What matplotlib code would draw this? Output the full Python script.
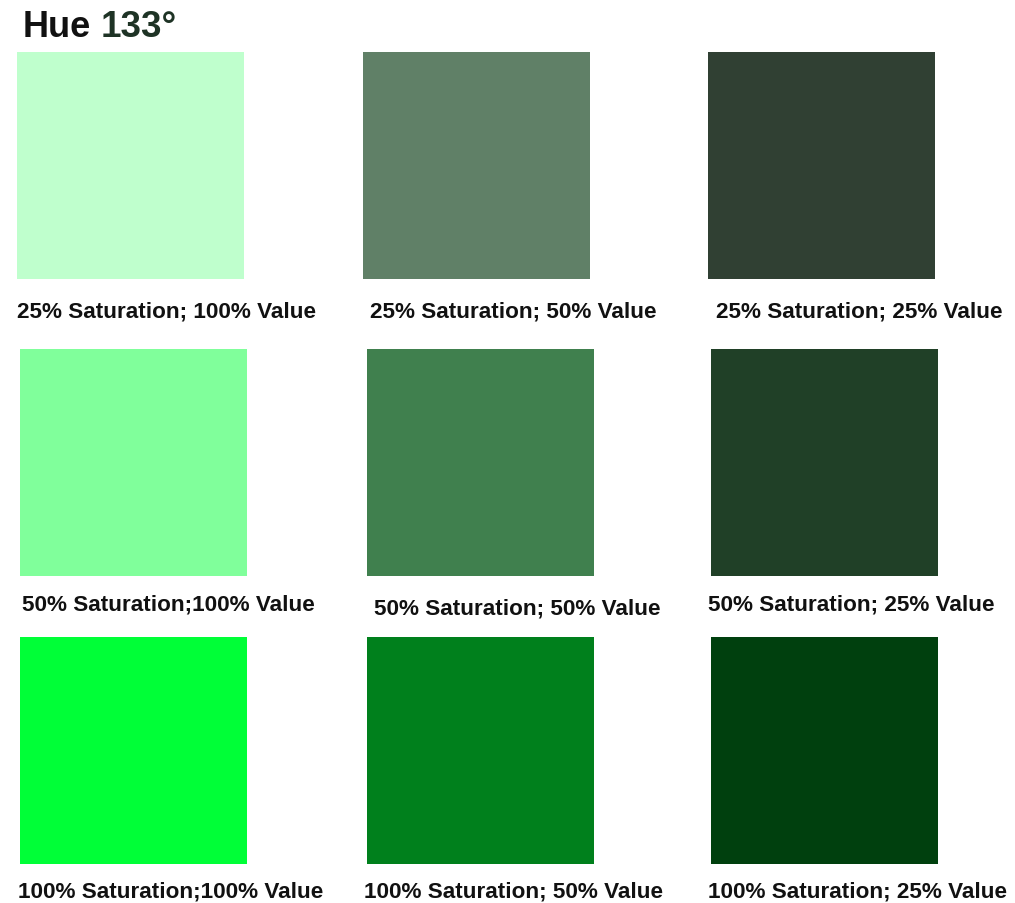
import colorsys
import matplotlib
matplotlib.use("Agg")
import matplotlib.pyplot as plt
from matplotlib.patches import Rectangle

# ---- data ----
hue_deg = 133
saturations = [25, 50, 100]          # rows
values = [100, 50, 25]               # columns
labels = [
    ["25% Saturation; 100% Value", "25% Saturation; 50% Value", "25% Saturation; 25% Value"],
    ["50% Saturation;100% Value", "50% Saturation; 50% Value", "50% Saturation; 25% Value"],
    ["100% Saturation;100% Value", "100% Saturation; 50% Value", "100% Saturation; 25% Value"],
]

# ---- layout (pixels) ----
W, H = 1015, 904
sq_x = [[17, 363, 708], [20, 367, 711], [20, 367, 711]]
sq_y = [53, 350, 638]
sq_w, sq_h = 227, 227
lab_x = [[17, 370, 716], [22, 374, 708], [18, 364, 708]]
lab_base = [[318, 318, 318], [611, 615, 611], [898, 898, 898]]

plt.rcParams['font.family'] = ['Liberation Sans', 'DejaVu Sans']
fig = plt.figure(figsize=(W / 100, H / 100), dpi=100)
ax = fig.add_axes([0, 0, 1, 1])
ax.set_xlim(0, W)
ax.set_ylim(H, 0)
ax.axis('off')

for r, s in enumerate(saturations):
    for c, v in enumerate(values):
        col = colorsys.hsv_to_rgb(hue_deg / 360, s / 100, v / 100)
        ax.add_patch(Rectangle((sq_x[r][c], sq_y[r]), sq_w, sq_h,
                               facecolor=col, edgecolor='none'))
        ax.text(lab_x[r][c], lab_base[r][c], labels[r][c], ha='left', va='baseline',
                fontsize=16.2, fontweight='bold', color='#111111')

ax.text(23, 37, "Hue", ha='left', va='baseline', fontsize=26,
        fontweight='bold', color='#111111')
ax.text(101, 37, f"{hue_deg}°", ha='left', va='baseline', fontsize=26.5,
        fontweight='bold', color='#1e3325')

fig.savefig("out.png", dpi=100, facecolor='white')
